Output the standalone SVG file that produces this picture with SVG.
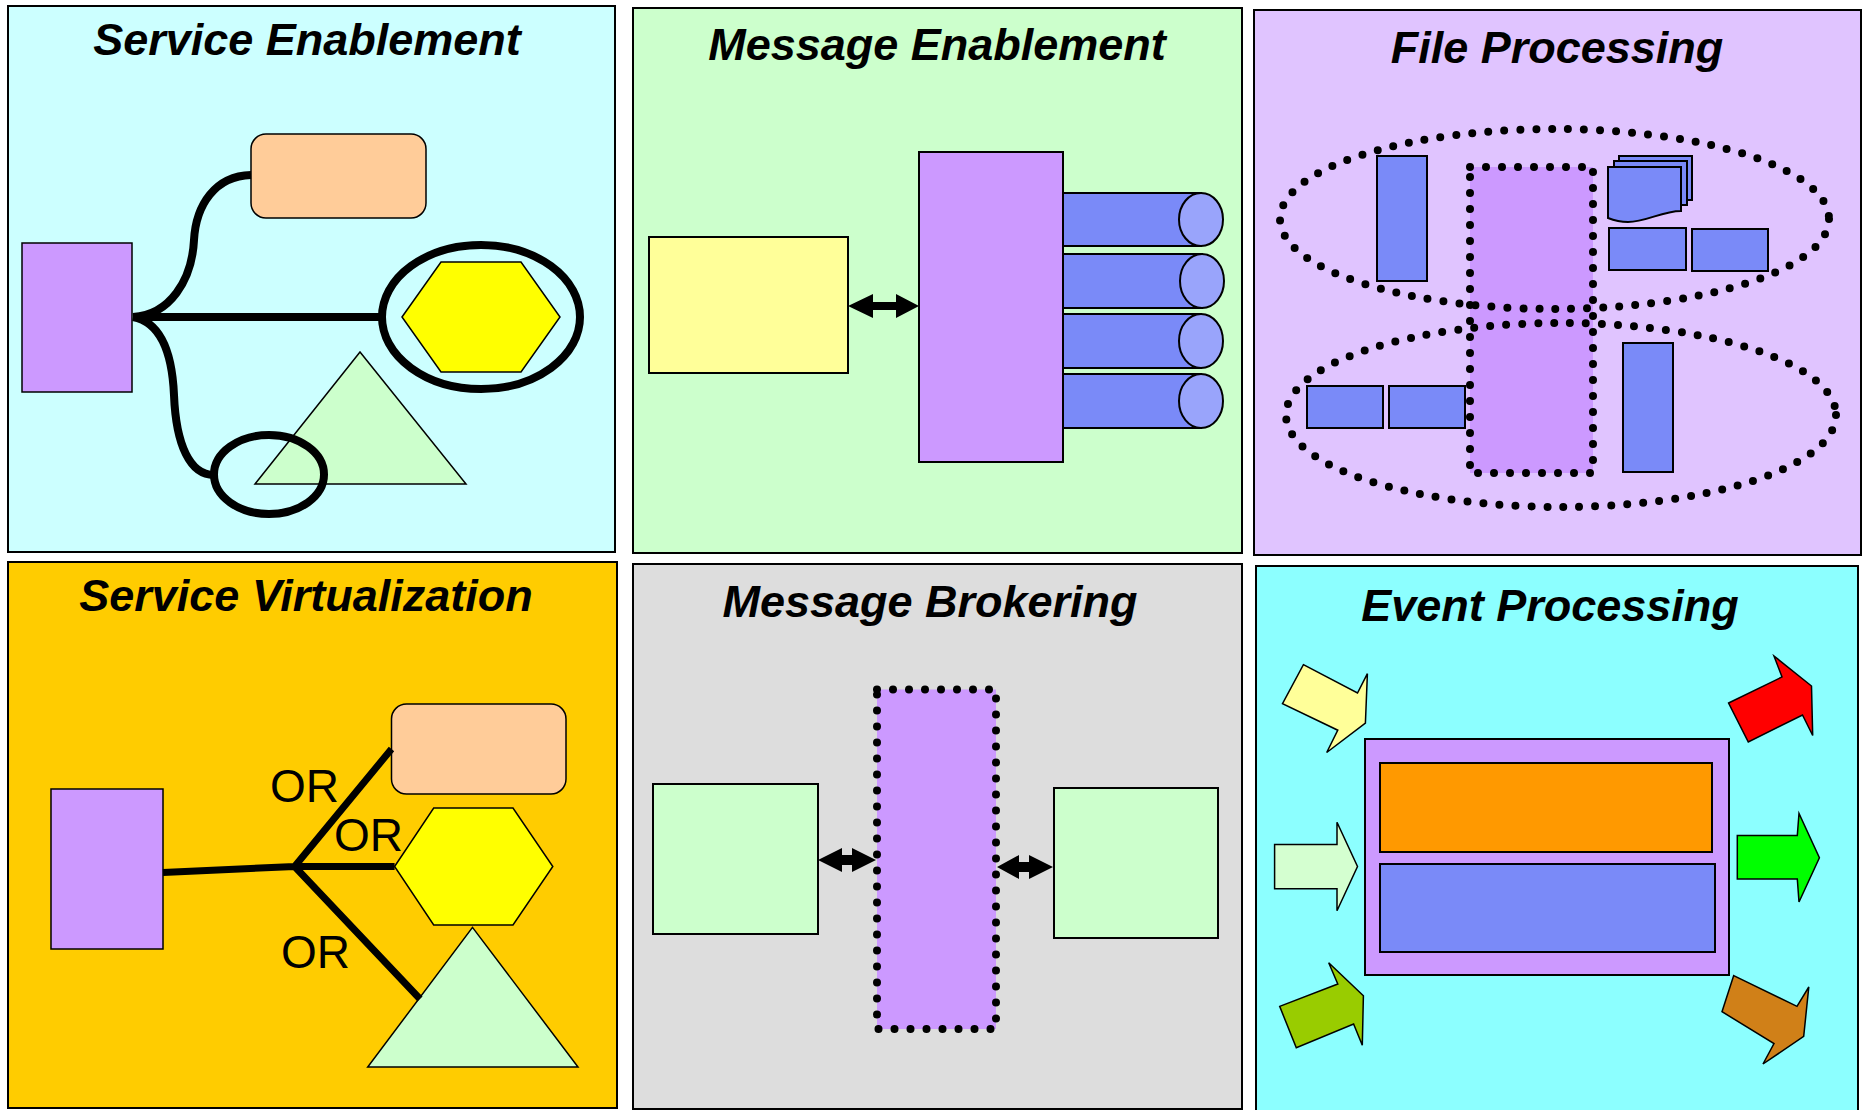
<svg xmlns="http://www.w3.org/2000/svg" width="1864" height="1110" viewBox="0 0 1864 1110">
<style>
.panel{stroke:#000;stroke-width:2}
.title{font-family:"Liberation Sans",Arial,sans-serif;font-weight:bold;font-style:italic;font-size:45px;fill:#000;text-anchor:middle}
.or{font-family:"Liberation Sans",Arial,sans-serif;font-size:46px;fill:#000}
.s{stroke:#000;stroke-width:2}
.thin{stroke:#000;stroke-width:1.5}
.purple{fill:#CC99FF}
.orange{fill:#FFCC99}
.yellow{fill:#FFFF00}
.tri{fill:#CCFFCC}
.blue{fill:#7A8AF8}
.cap{fill:#99A4FB}
.conn{fill:none;stroke:#000;stroke-width:8}
.conn2{fill:none;stroke:#000;stroke-width:7}
.ring{fill:none;stroke:#000;stroke-width:8}
.dots{fill:none;stroke:#000;stroke-width:8;stroke-linecap:round;stroke-dasharray:0 16}
.dar{fill:#000}
</style>
<rect width="1864" height="1110" fill="#fff"/>

<!-- Panel 1: Service Enablement -->
<g id="service-enablement">
<rect class="panel" x="8" y="6" width="607" height="546" fill="#CCFFFF"/>
<text class="title" x="307" y="55">Service Enablement</text>
<g id="se-consumer"><rect class="purple thin" x="22" y="243" width="110" height="149"/></g>
<g id="se-service-rect"><rect class="orange thin" x="251" y="134" width="175" height="84" rx="15"/></g>
<g id="se-hexagon"><polygon class="yellow thin" points="402,317 441,262 521,262 560,317 521,372 441,372"/></g>
<g id="se-triangle"><polygon class="tri thin" points="360,352 255,484 466,484"/></g>
</g>

<!-- Panel 2: Message Enablement -->
<g id="message-enablement">
<rect class="panel" x="633" y="8" width="609" height="545" fill="#CCFFCC"/>
<text class="title" x="937" y="60">Message Enablement</text>
<g id="me-app"><rect class="s" x="649" y="237" width="199" height="136" fill="#FFFF99"/></g>
<g id="me-queue-1"><path class="s blue" d="M1060,193 H1201 V246 H1060 Z"/><ellipse class="s cap" cx="1201" cy="219.5" rx="22" ry="26.5"/></g>
<g id="me-queue-2"><path class="s blue" d="M1060,254 H1202 V308 H1060 Z"/><ellipse class="s cap" cx="1202" cy="281" rx="22" ry="27"/></g>
<g id="me-queue-3"><path class="s blue" d="M1060,314 H1201 V368 H1060 Z"/><ellipse class="s cap" cx="1201" cy="341" rx="22" ry="27"/></g>
<g id="me-queue-4"><path class="s blue" d="M1060,374 H1201 V428 H1060 Z"/><ellipse class="s cap" cx="1201" cy="401" rx="22" ry="27"/></g>
<g id="me-bus"><rect class="purple s" x="919" y="152" width="144" height="310"/></g>
</g>

<!-- Panel 3: File Processing -->
<g id="file-processing">
<rect class="panel" x="1254" y="10" width="607" height="545" fill="#E0C4FF"/>
<text class="title" x="1557" y="63">File Processing</text>
<g id="fp-processor"><rect x="1470" y="167" width="123" height="306" fill="#CC99FF"/><rect class="dots" x="1470" y="167" width="123" height="306"/></g>
<g id="fp-file-1"><rect class="s blue" x="1377" y="156" width="50" height="125"/></g>
<g id="fp-docs">
<rect class="s blue" x="1619" y="156" width="73" height="44"/>
<rect class="s blue" x="1614" y="161" width="73" height="44"/>
<path class="s blue" d="M1608,167 H1681 V211 C1662,211 1646,222 1628,222 C1619,222 1613,220 1608,218 Z"/>
</g>
<g id="fp-file-2"><rect class="s blue" x="1609" y="228" width="77" height="42"/></g>
<g id="fp-file-3"><rect class="s blue" x="1692" y="229" width="76" height="42"/></g>
<g id="fp-file-4"><rect class="s blue" x="1307" y="386" width="76" height="42"/></g>
<g id="fp-file-5"><rect class="s blue" x="1389" y="386" width="76" height="42"/></g>
<g id="fp-file-6"><rect class="s blue" x="1623" y="343" width="50" height="129"/></g>
<g id="fp-group-top"><ellipse class="dots" cx="1554.5" cy="219" rx="274.5" ry="90"/></g>
<g id="fp-group-bottom"><ellipse class="dots" cx="1561" cy="415" rx="275" ry="92"/></g>
</g>

<!-- Panel 4: Service Virtualization -->
<g id="service-virtualization">
<rect class="panel" x="8" y="562" width="609" height="546" fill="#FFCC00"/>
<text class="title" x="306" y="611">Service Virtualization</text>
<g id="sv-consumer"><rect class="purple thin" x="51" y="789" width="112" height="160"/></g>
<g id="sv-service-rect"><rect class="orange thin" x="391.5" y="704" width="174.5" height="90" rx="15"/></g>
<g id="sv-hexagon"><polygon class="yellow thin" points="394.6,866.5 433.7,808 513,808 552.8,866.5 513,925 433.7,925"/></g>
<g id="sv-triangle"><polygon class="tri thin" points="472.5,927.4 367.7,1067 578,1067"/></g>
<text class="or" x="270" y="802">OR</text>
<text class="or" x="334" y="851">OR</text>
<text class="or" x="281" y="968">OR</text>
</g>

<!-- Panel 5: Message Brokering -->
<g id="message-brokering">
<rect class="panel" x="633" y="564" width="609" height="545" fill="#DDDDDD"/>
<text class="title" x="930" y="617">Message Brokering</text>
<g id="mb-left"><rect class="s" x="653" y="784" width="165" height="150" fill="#CCFFCC"/></g>
<g id="mb-right"><rect class="s" x="1054" y="788" width="164" height="150" fill="#CCFFCC"/></g>
<g id="mb-broker"><rect x="877" y="689.5" width="119" height="339.5" fill="#CC99FF"/><rect class="dots" x="877" y="689.5" width="119" height="339.5"/></g>
</g>

<!-- Panel 6: Event Processing -->
<g id="event-processing">
<rect class="panel" x="1256" y="566" width="602" height="548" fill="#8CFFFF"/>
<text class="title" x="1550" y="621">Event Processing</text>
<g id="ep-engine">
<rect class="s purple" x="1365" y="739" width="364" height="236"/>
<rect class="s" x="1380" y="763" width="332" height="89" fill="#FF9900"/>
<rect class="s blue" x="1380" y="864" width="335" height="88"/>
</g>
<g id="ep-in-1"><polygon class="thin" fill="#FFFF99" points="1303.4,664.7 1357.5,693 1367.4,673.6 1365.4,723 1326.7,752.5 1337.8,730.2 1282.5,703.7"/></g>
<g id="ep-in-2"><polygon class="thin" fill="#D4FFD0" points="1274.6,844.6 1337,844.6 1337,822.3 1357.5,866.5 1337,910.8 1337,888.8 1274.6,888.8"/></g>
<g id="ep-in-3"><polygon class="thin" fill="#99CC00" points="1279.7,1006.4 1337.8,984 1328.7,962.8 1363.4,995.7 1362.3,1045.3 1353.6,1024 1296.3,1047.8"/></g>
<g id="ep-out-1"><polygon class="thin" fill="#FF0000" points="1728.6,703 1782,677 1774,656 1811.5,686 1812.7,735.5 1802.5,715 1748.3,742"/></g>
<g id="ep-out-2"><polygon class="thin" fill="#00FF00" points="1737.3,835.4 1797.3,835.4 1799,813.4 1819.4,857.7 1799,902 1797.3,879 1737.3,879"/></g>
<g id="ep-out-3"><polygon class="thin" fill="#D08018" points="1733.7,975.6 1797,1006.4 1808.8,987 1803.7,1036.4 1763,1064 1774,1043.5 1722,1011.7"/></g>
</g>

<!-- Connectors -->
<g id="connectors">
<path class="conn" d="M133,317 C170,315 192,280 194,240 C196,205 215,176 251,175"/>
<path class="conn" d="M133,317 H381"/>
<path class="conn" d="M133,317 C160,322 172,350 174,395 C176,445 190,475 214,475"/>
<ellipse class="ring" cx="481" cy="317" rx="99" ry="72"/>
<ellipse class="ring" cx="269" cy="474.5" rx="55" ry="39.5"/>
<polygon class="dar" points="848,306 873,294 873,302 896,302 896,294 919,306 896,318 896,310 873,310 873,318"/>
<path class="conn2" d="M163,872.5 L294.6,866.5 L394.6,866.5 M294.6,866.5 L391.5,749 M294.6,866.5 L420,999"/>
<polygon class="dar" points="818,860 842,848 842,855 852,855 852,848 876,860 852,872 852,865 842,865 842,872"/>
<polygon class="dar" points="997,867 1019,855 1019,862 1029,862 1029,855 1053,867 1029,879 1029,872 1019,872 1019,879"/>
</g>
</svg>
